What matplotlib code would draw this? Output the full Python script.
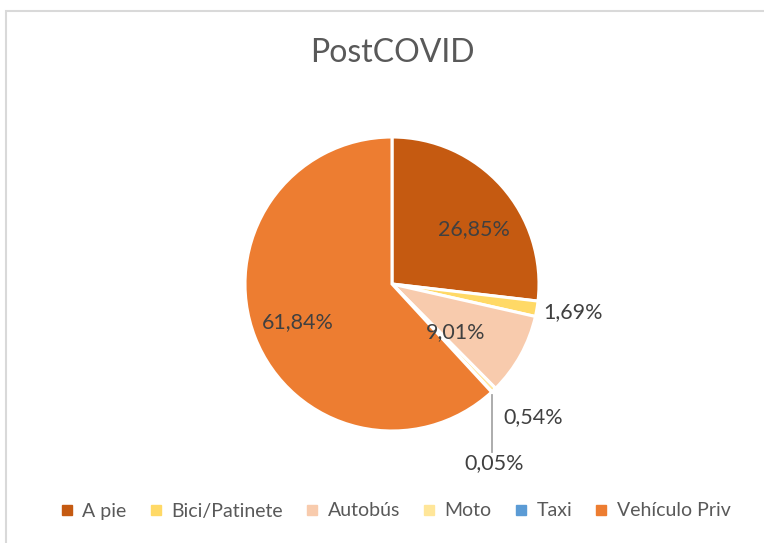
import math
import matplotlib.pyplot as plt
from matplotlib.patches import Rectangle
from matplotlib.lines import Line2D

plt.rcParams['font.family'] = ['Lato', 'DejaVu Sans']

# data
categories = ['A pie', 'Bici/Patinete', 'Autobús', 'Moto', 'Taxi', 'Vehículo Priv']
shares = [26.85, 1.69, 9.01, 0.54, 0.05, 61.84]
pct_labels = ['26,85%', '1,69%', '9,01%', '0,54%', '0,05%', '61,84%']
colors = ['#C55A11', '#FFD966', '#F8CBAD', '#FFE699', '#5B9BD5', '#ED7D31']

W, H = 764, 543
fig = plt.figure(figsize=(W / 100, H / 100), dpi=100)
ax = fig.add_axes([0, 0, 1, 1])

cx, cy, rad = 392, H - 284, 147
explode = [0, 0.03, 0.035, 0.03, 0.03, 0]
wedges, _ = ax.pie(shares, colors=colors, startangle=90, counterclock=False,
                   center=(cx, cy), radius=rad, explode=explode,
                   wedgeprops=dict(edgecolor='white', linewidth=2.2))
ax.set_xlim(0, W)
ax.set_ylim(0, H)
ax.set_aspect('equal')
ax.axis('off')

# label placement: (radius factor, angle shift in degrees) per slice
label_layout = [(0.67, -8), (1.245, 1), (0.54, -8), (1.0, 0), (1.0, 0), (0.69, 1)]
txt_color = '#404040'
lbl_size = 15.5
for i, w in enumerate(wedges):
    mid = math.radians((w.theta1 + w.theta2) / 2 + label_layout[i][1])
    f = label_layout[i][0]
    if categories[i] == 'Moto':
        ax.text(cx + 141, cy - 133, pct_labels[i], ha='center', va='center',
                fontsize=lbl_size, color=txt_color)
    elif categories[i] == 'Taxi':
        tip_x, tip_y = cx + 100, cy - 111
        ax.add_line(Line2D([tip_x, tip_x], [tip_y, tip_y - 57], color='#a6a6a6', lw=1.3))
        ax.text(cx + 102, cy - 179, pct_labels[i], ha='center', va='center',
                fontsize=lbl_size, color=txt_color)
    else:
        x = cx + f * rad * math.cos(mid)
        y = cy + f * rad * math.sin(mid)
        ax.text(x, y, pct_labels[i], ha='center', va='center', fontsize=lbl_size, color=txt_color)

ax.text(cx, H - 53, 'PostCOVID', ha='center', va='center', fontsize=23, color='#595959')

# chart frame
fig.patches.append(Rectangle((6 / W, -0.05), 1.1, 1.05 - 11 / H, transform=fig.transFigure,
                             fill=False, edgecolor='#d9d9d9', linewidth=1.5))

handles = [Line2D([], [], marker='s', linestyle='none', markersize=7,
                  markerfacecolor=c, markeredgecolor=c) for c in colors]
fig.legend(handles, categories, loc='center', bbox_to_anchor=(0.518, 1 - 511 / H), ncol=6,
           frameon=False, fontsize=14, handlelength=0.6, handletextpad=0.5,
           columnspacing=1.2, labelcolor='#595959')

fig.savefig('out.png', dpi=100)
